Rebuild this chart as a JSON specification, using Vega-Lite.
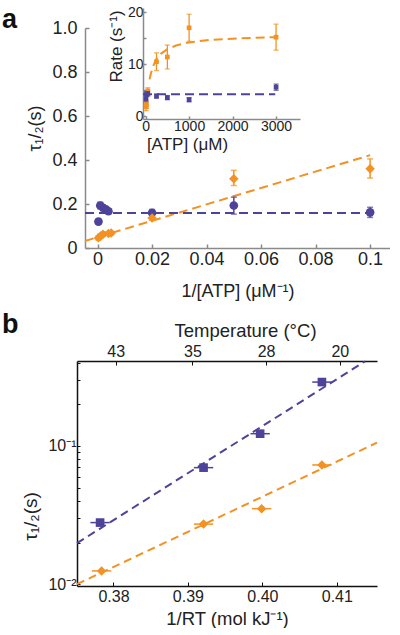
{
  "$schema": "https://vega.github.io/schema/vega-lite/v6.json",
  "background": "white",
  "padding": {"left": 2, "top": 5, "right": 0, "bottom": 0},
  "config": {
    "font": "Liberation Sans",
    "view": {"stroke": null},
    "axis": {"grid": false, "labelFont": "Liberation Sans", "titleFont": "Liberation Sans", "titleFontWeight": "normal", "labelColor": "#222", "titleColor": "#222"},
    "title": {"font": "Liberation Sans", "color": "#111"}
  },
  "datasets": {
    "fitA": [
      {"s": "O", "x": -0.0046, "y": 0.032}, {"s": "O", "x": 0.1, "y": 0.422},
      {"s": "P", "x": -0.0046, "y": 0.159}, {"s": "P", "x": 0.1, "y": 0.159}
    ],
    "ptsA": [
      {"s": "P", "x": 0.00033, "y": 0.12, "lo": 0.11, "hi": 0.13},
      {"s": "P", "x": 0.001, "y": 0.193, "lo": 0.178, "hi": 0.208},
      {"s": "P", "x": 0.002, "y": 0.183, "lo": 0.17, "hi": 0.196},
      {"s": "P", "x": 0.003, "y": 0.176, "lo": 0.164, "hi": 0.188},
      {"s": "P", "x": 0.004, "y": 0.167, "lo": 0.157, "hi": 0.177},
      {"s": "P", "x": 0.02, "y": 0.16, "lo": 0.145, "hi": 0.175},
      {"s": "P", "x": 0.05, "y": 0.193, "lo": 0.154, "hi": 0.231},
      {"s": "P", "x": 0.1, "y": 0.162, "lo": 0.139, "hi": 0.185},
      {"s": "O", "x": 0.00033, "y": 0.046, "lo": 0.036, "hi": 0.056},
      {"s": "O", "x": 0.001, "y": 0.053, "lo": 0.043, "hi": 0.063},
      {"s": "O", "x": 0.002, "y": 0.062, "lo": 0.052, "hi": 0.072},
      {"s": "O", "x": 0.004, "y": 0.066, "lo": 0.058, "hi": 0.074},
      {"s": "O", "x": 0.005, "y": 0.068, "lo": 0.06, "hi": 0.076},
      {"s": "O", "x": 0.02, "y": 0.136, "lo": 0.126, "hi": 0.146},
      {"s": "O", "x": 0.05, "y": 0.315, "lo": 0.284, "hi": 0.353},
      {"s": "O", "x": 0.1, "y": 0.36, "lo": 0.318, "hi": 0.405}
    ],
    "fitIn": [
      {"s": "P", "x": -60, "y": 4.25}, {"s": "P", "x": 2980, "y": 4.25},
      {"s": "O", "x": 90, "y": 7.1}, {"s": "O", "x": 120, "y": 8.2}, {"s": "O", "x": 170, "y": 9.6},
      {"s": "O", "x": 250, "y": 11.0}, {"s": "O", "x": 350, "y": 12.0}, {"s": "O", "x": 500, "y": 12.9},
      {"s": "O", "x": 700, "y": 13.6}, {"s": "O", "x": 1000, "y": 14.2}, {"s": "O", "x": 1500, "y": 14.7},
      {"s": "O", "x": 2000, "y": 14.9}, {"s": "O", "x": 2500, "y": 15.1}, {"s": "O", "x": 3000, "y": 15.2}
    ],
    "ptsIn": [
      {"s": "O", "x": 10, "y": 1.9, "lo": 1.1, "hi": 2.7},
      {"s": "O", "x": 20, "y": 2.2, "lo": 1.5, "hi": 2.9},
      {"s": "O", "x": 50, "y": 4.9, "lo": 4.3, "hi": 5.5},
      {"s": "O", "x": 250, "y": 10.5, "lo": 8.8, "hi": 12.2},
      {"s": "O", "x": 500, "y": 11.4, "lo": 9.1, "hi": 13.7},
      {"s": "O", "x": 1000, "y": 17.0, "lo": 14.4, "hi": 19.6},
      {"s": "O", "x": 3000, "y": 15.2, "lo": 12.7, "hi": 17.7},
      {"s": "P", "x": 10, "y": 3.3, "lo": 2.7, "hi": 3.9},
      {"s": "P", "x": 20, "y": 4.3, "lo": 3.8, "hi": 4.8},
      {"s": "P", "x": 50, "y": 4.4, "lo": 3.9, "hi": 4.9},
      {"s": "P", "x": 250, "y": 3.9, "lo": 3.5, "hi": 4.3},
      {"s": "P", "x": 500, "y": 3.6, "lo": 3.2, "hi": 4.0},
      {"s": "P", "x": 1000, "y": 3.2, "lo": 2.8, "hi": 3.6},
      {"s": "P", "x": 3000, "y": 5.6, "lo": 5.0, "hi": 6.2}
    ],
    "fitB": [
      {"s": "P", "x": 0.3751, "y": 0.0198}, {"s": "P", "x": 0.4138, "y": 0.41},
      {"s": "O", "x": 0.3751, "y": 0.01}, {"s": "O", "x": 0.4154, "y": 0.1057}
    ],
    "ptsB": [
      {"s": "P", "x": 0.3782, "y": 0.0279, "xlo": 0.3769, "xhi": 0.3795},
      {"s": "P", "x": 0.3921, "y": 0.0697, "xlo": 0.3908, "xhi": 0.3934},
      {"s": "P", "x": 0.3997, "y": 0.1227, "xlo": 0.3984, "xhi": 0.401},
      {"s": "P", "x": 0.408, "y": 0.29, "xlo": 0.4067, "xhi": 0.4093},
      {"s": "O", "x": 0.3784, "y": 0.01247, "xlo": 0.3771, "xhi": 0.3797},
      {"s": "O", "x": 0.3921, "y": 0.0272, "xlo": 0.3908, "xhi": 0.3934},
      {"s": "O", "x": 0.3999, "y": 0.0352, "xlo": 0.3986, "xhi": 0.4012},
      {"s": "O", "x": 0.408, "y": 0.0729, "xlo": 0.4067, "xhi": 0.4093}
    ]
  },
  "columns": 1,
  "align": "none",
  "spacing": 11,
  "concat": [
    {
      "width": 313,
      "height": 220,
      "title": {"text": "a", "anchor": "start", "frame": "group", "fontSize": 27, "fontWeight": "bold", "dx": -75, "dy": 29, "offset": 0},
      "resolve": {"scale": {"x": "independent", "y": "independent"}, "axis": {"x": "independent", "y": "independent"}},
      "layer": [
        {
          "layer": [
            {
              "data": {"name": "fitA"},
              "mark": {"type": "line", "strokeDash": [9, 5], "strokeWidth": 2},
              "encoding": {
                "x": {"field": "x", "type": "quantitative", "title": "1/[ATP] (μM⁻¹)", "scale": {"domain": [-0.0046, 0.1073], "nice": false, "zero": false, "range": [8, 313]},
                  "axis": {"orient": "bottom", "values": [0, 0.02, 0.04, 0.06, 0.08, 0.1], "format": "~g", "labelFontSize": 18, "titleFontSize": 18, "tickSize": -4, "domainColor": "#8a8a8a", "tickColor": "#8a8a8a", "domainWidth": 1.5, "tickWidth": 1.5, "labelPadding": 6, "titlePadding": 14, "labelFlush": false}},
                "y": {"field": "y", "type": "quantitative", "title": "τ₁/₂(s)", "scale": {"domain": [0, 1], "nice": false, "zero": false},
                  "axis": {"orient": "left", "offset": -8, "values": [0, 0.2, 0.4, 0.6, 0.8, 1.0], "labelExpr": "datum.value == 0 ? '0' : format(datum.value, '.1f')", "labelFontSize": 18, "titleFontSize": 18, "tickSize": -4, "domainColor": "#8a8a8a", "tickColor": "#8a8a8a", "domainWidth": 1.5, "tickWidth": 1.5, "labelPadding": 12, "titlePadding": 7, "titleY": 100}},
                "color": {"field": "s", "type": "nominal", "scale": {"domain": ["O", "P"], "range": ["#f39223", "#4d4399"]}, "legend": null}
              }
            },
            {
              "data": {"name": "ptsA"},
              "mark": {"type": "rule", "strokeWidth": 1.5},
              "encoding": {
                "x": {"field": "x", "type": "quantitative", "title": "1/[ATP] (μM⁻¹)", "scale": {"domain": [-0.0046, 0.1073], "nice": false, "zero": false, "range": [8, 313]}},
                "y": {"field": "lo", "type": "quantitative", "title": "τ₁/₂(s)", "scale": {"domain": [0, 1], "nice": false, "zero": false}},
                "y2": {"field": "hi"},
                "color": {"field": "s", "type": "nominal", "legend": null}
              }
            },
            {
              "data": {"name": "ptsA"},
              "mark": {"type": "tick", "orient": "horizontal", "size": 6, "thickness": 1.5},
              "encoding": {
                "x": {"field": "x", "type": "quantitative", "title": "1/[ATP] (μM⁻¹)", "scale": {"domain": [-0.0046, 0.1073], "nice": false, "zero": false, "range": [8, 313]}},
                "y": {"field": "lo", "type": "quantitative", "title": "τ₁/₂(s)", "scale": {"domain": [0, 1], "nice": false, "zero": false}},
                "color": {"field": "s", "type": "nominal", "legend": null}
              }
            },
            {
              "data": {"name": "ptsA"},
              "mark": {"type": "tick", "orient": "horizontal", "size": 6, "thickness": 1.5},
              "encoding": {
                "x": {"field": "x", "type": "quantitative", "title": "1/[ATP] (μM⁻¹)", "scale": {"domain": [-0.0046, 0.1073], "nice": false, "zero": false, "range": [8, 313]}},
                "y": {"field": "hi", "type": "quantitative", "title": "τ₁/₂(s)", "scale": {"domain": [0, 1], "nice": false, "zero": false}},
                "color": {"field": "s", "type": "nominal", "legend": null}
              }
            },
            {
              "data": {"name": "ptsA"},
              "transform": [{"filter": "datum.s == 'P'"}],
              "mark": {"type": "point", "shape": "circle", "filled": true, "size": 75, "opacity": 1},
              "encoding": {
                "x": {"field": "x", "type": "quantitative", "title": "1/[ATP] (μM⁻¹)", "scale": {"domain": [-0.0046, 0.1073], "nice": false, "zero": false, "range": [8, 313]}},
                "y": {"field": "y", "type": "quantitative", "title": "τ₁/₂(s)", "scale": {"domain": [0, 1], "nice": false, "zero": false}},
                "color": {"field": "s", "type": "nominal", "legend": null}
              }
            },
            {
              "data": {"name": "ptsA"},
              "transform": [{"filter": "datum.s == 'O'"}],
              "mark": {"type": "point", "shape": "diamond", "filled": true, "size": 90, "opacity": 1},
              "encoding": {
                "x": {"field": "x", "type": "quantitative", "title": "1/[ATP] (μM⁻¹)", "scale": {"domain": [-0.0046, 0.1073], "nice": false, "zero": false, "range": [8, 313]}},
                "y": {"field": "y", "type": "quantitative", "title": "τ₁/₂(s)", "scale": {"domain": [0, 1], "nice": false, "zero": false}},
                "color": {"field": "s", "type": "nominal", "legend": null}
              }
            }
          ]
        },
        {
          "layer": [
            {
              "data": {"name": "fitIn"},
              "mark": {"type": "line", "strokeDash": [9, 5], "strokeWidth": 2},
              "encoding": {
                "x": {"field": "x", "type": "quantitative", "title": "[ATP] (μM)", "scale": {"domain": [-60, 3550], "nice": false, "zero": false, "range": [66, 223]},
                  "axis": {"orient": "bottom", "offset": -129, "values": [0, 1000, 2000, 3000], "format": "d", "labelFontSize": 14, "titleFontSize": 17, "tickSize": -3, "domainColor": "#8a8a8a", "tickColor": "#8a8a8a", "domainWidth": 1.5, "tickWidth": 1.5, "labelPadding": 3, "titlePadding": 3, "titleX": 110, "labelFlush": false}},
                "y": {"field": "y", "type": "quantitative", "title": "Rate (s⁻¹)", "scale": {"domain": [-0.5, 20.8], "nice": false, "zero": false, "range": [91, -20]},
                  "axis": {"orient": "left", "offset": -66, "values": [0, 5, 10, 15, 20], "labelExpr": "datum.value % 10 == 0 ? datum.label : ''", "labelFontSize": 14, "titleFontSize": 17, "tickSize": -3, "domainColor": "#8a8a8a", "tickColor": "#8a8a8a", "domainWidth": 1.5, "tickWidth": 1.5, "labelPadding": 3, "titlePadding": 2, "titleY": 18}},
                "color": {"field": "s", "type": "nominal", "legend": null}
              }
            },
            {
              "data": {"name": "ptsIn"},
              "mark": {"type": "rule", "strokeWidth": 1.3},
              "encoding": {
                "x": {"field": "x", "type": "quantitative", "title": "[ATP] (μM)", "scale": {"domain": [-60, 3550], "nice": false, "zero": false, "range": [66, 223]}},
                "y": {"field": "lo", "type": "quantitative", "title": "Rate (s⁻¹)", "scale": {"domain": [-0.5, 20.8], "nice": false, "zero": false, "range": [91, -20]}},
                "y2": {"field": "hi"},
                "color": {"field": "s", "type": "nominal", "legend": null}
              }
            },
            {
              "data": {"name": "ptsIn"},
              "mark": {"type": "tick", "orient": "horizontal", "size": 5, "thickness": 1.3},
              "encoding": {
                "x": {"field": "x", "type": "quantitative", "title": "[ATP] (μM)", "scale": {"domain": [-60, 3550], "nice": false, "zero": false, "range": [66, 223]}},
                "y": {"field": "lo", "type": "quantitative", "title": "Rate (s⁻¹)", "scale": {"domain": [-0.5, 20.8], "nice": false, "zero": false, "range": [91, -20]}},
                "color": {"field": "s", "type": "nominal", "legend": null}
              }
            },
            {
              "data": {"name": "ptsIn"},
              "mark": {"type": "tick", "orient": "horizontal", "size": 5, "thickness": 1.3},
              "encoding": {
                "x": {"field": "x", "type": "quantitative", "title": "[ATP] (μM)", "scale": {"domain": [-60, 3550], "nice": false, "zero": false, "range": [66, 223]}},
                "y": {"field": "hi", "type": "quantitative", "title": "Rate (s⁻¹)", "scale": {"domain": [-0.5, 20.8], "nice": false, "zero": false, "range": [91, -20]}},
                "color": {"field": "s", "type": "nominal", "legend": null}
              }
            },
            {
              "data": {"name": "ptsIn"},
              "mark": {"type": "point", "shape": "square", "filled": true, "size": 22, "opacity": 1},
              "encoding": {
                "x": {"field": "x", "type": "quantitative", "title": "[ATP] (μM)", "scale": {"domain": [-60, 3550], "nice": false, "zero": false, "range": [66, 223]}},
                "y": {"field": "y", "type": "quantitative", "title": "Rate (s⁻¹)", "scale": {"domain": [-0.5, 20.8], "nice": false, "zero": false, "range": [91, -20]}},
                "color": {"field": "s", "type": "nominal", "legend": null}
              }
            }
          ]
        }
      ]
    },
    {
      "width": 300,
      "height": 225,
      "title": {"text": "b", "anchor": "start", "frame": "group", "fontSize": 27, "fontWeight": "bold", "dx": -75, "dy": 18, "offset": 0},
      "resolve": {"axis": {"x": "independent"}},
      "layer": [
        {
          "data": {"name": "fitB"},
          "mark": {"type": "line", "strokeDash": [8, 5], "strokeWidth": 2},
          "encoding": {
            "x": {"field": "x", "type": "quantitative", "scale": {"domain": [0.3751, 0.4154], "nice": false, "zero": false}, "axis": null},
            "y": {"field": "y", "type": "quantitative", "title": "τ₁/₂(s)", "scale": {"type": "log", "domain": [0.0097, 0.412], "nice": false},
              "axis": {"orient": "left", "values": [0.01, 0.02, 0.03, 0.04, 0.05, 0.06, 0.07, 0.08, 0.09, 0.1, 0.2, 0.3, 0.4], "labelExpr": "datum.value == 0.01 ? '10⁻²' : datum.value == 0.1 ? '10⁻¹' : ''", "labelFontSize": 16, "titleFontSize": 19, "tickSize": -3, "domainColor": "#111", "tickColor": "#111", "domainWidth": 1.5, "tickWidth": 1, "labelPadding": 4, "titlePadding": 7, "titleY": 155}},
            "color": {"field": "s", "type": "nominal", "scale": {"domain": ["O", "P"], "range": ["#f39223", "#4d4399"]}, "legend": null}
          }
        },
        {
          "data": {"name": "ptsB"},
          "mark": {"type": "rule", "strokeWidth": 1.5},
          "encoding": {
            "x": {"field": "xlo", "type": "quantitative", "title": "1/RT (mol kJ⁻¹)", "scale": {"domain": [0.3751, 0.4154], "nice": false, "zero": false},
              "axis": {"orient": "bottom", "values": [0.38, 0.39, 0.40, 0.41], "format": ".2f", "labelFontSize": 16, "titleFontSize": 18.5, "tickSize": -4, "domainColor": "#111", "tickColor": "#111", "domainWidth": 1.5, "tickWidth": 1, "labelPadding": 6, "titlePadding": 5, "labelFlush": false}},
            "x2": {"field": "xhi"},
            "y": {"field": "y", "type": "quantitative", "title": "τ₁/₂(s)", "scale": {"type": "log", "domain": [0.0097, 0.412], "nice": false}},
            "color": {"field": "s", "type": "nominal", "legend": null}
          }
        },
        {
          "data": {"name": "ptsB"},
          "transform": [{"filter": "datum.s == 'P'"}],
          "mark": {"type": "point", "shape": "square", "filled": true, "size": 75, "opacity": 1},
          "encoding": {
            "x": {"field": "x", "type": "quantitative", "title": "Temperature (°C)", "scale": {"domain": [0.3751, 0.4154], "nice": false, "zero": false},
              "axis": {"orient": "top", "values": [0.3803, 0.3906, 0.4005, 0.4104], "labelExpr": "datum.value < 0.385 ? '43' : datum.value < 0.395 ? '35' : datum.value < 0.405 ? '28' : '20'", "labelFontSize": 16, "titleFontSize": 18.5, "tickSize": -4, "domainColor": "#111", "tickColor": "#111", "domainWidth": 1.5, "tickWidth": 1, "labelPadding": 6, "titlePadding": 3, "titleX": 168, "labelFlush": false}},
            "y": {"field": "y", "type": "quantitative", "title": "τ₁/₂(s)", "scale": {"type": "log", "domain": [0.0097, 0.412], "nice": false}},
            "color": {"field": "s", "type": "nominal", "legend": null}
          }
        },
        {
          "data": {"name": "ptsB"},
          "transform": [{"filter": "datum.s == 'O'"}],
          "mark": {"type": "point", "shape": "diamond", "filled": true, "size": 90, "opacity": 1},
          "encoding": {
            "x": {"field": "x", "type": "quantitative", "scale": {"domain": [0.3751, 0.4154], "nice": false, "zero": false}, "axis": null},
            "y": {"field": "y", "type": "quantitative", "title": "τ₁/₂(s)", "scale": {"type": "log", "domain": [0.0097, 0.412], "nice": false}},
            "color": {"field": "s", "type": "nominal", "legend": null}
          }
        }
      ]
    }
  ]
}
